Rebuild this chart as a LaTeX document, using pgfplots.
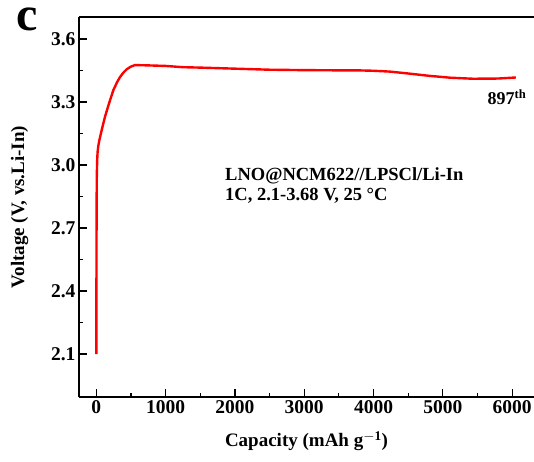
\documentclass[border=0pt]{standalone}
\usepackage{pgfplots}
\pgfplotsset{compat=1.18}
\usepackage{fontspec}
\setmainfont{Liberation Serif}
\begin{document}
\begin{tikzpicture}
\path[use as bounding box] (-79pt,-64pt) rectangle (455pt,397pt);
\clip (-79pt,-64pt) rectangle (455pt,397pt);
\begin{axis}[
  at={(0pt,0pt)}, anchor=south west,
  scale only axis, width=455pt, height=380pt,
  xmin=-250, xmax=6316, ymin=1.8955, ymax=3.705,
  axis x line*=bottom, axis y line*=left,
  axis line style={line width=1.3pt, black},
  xtick={0,1000,2000,3000,4000,5000,6000},
  ytick={2.1,2.4,2.7,3.0,3.3,3.6},
  minor x tick num=1, minor y tick num=1,
  tick align=inside,
  major tick length=8pt, minor tick length=4pt,
  every tick/.style={line width=1.2pt, black},
  /pgf/number format/assume math mode=true,
  x tick label style={font=\bfseries\fontsize{19.5}{19.5}\selectfont, /pgf/number format/set thousands separator={}},
  y tick label style={font=\bfseries\fontsize{19.5}{19.5}\selectfont, /pgf/number format/fixed, /pgf/number format/fixed zerofill, /pgf/number format/precision=1},
  xlabel={Capacity (mAh g$^{\mathbf{-1}}$)},
  ylabel={Voltage (V, vs.Li-In)},
  label style={font=\bfseries\fontsize{19}{19}\selectfont},
  xlabel style={yshift=-11pt},
  ylabel style={yshift=16pt},
  clip=false,
]
\addplot[red, line width=2.4pt, line join=round] coordinates {
(0,2.1) (2,2.5) (4,2.8) (7,2.95) (12,3.02) (18,3.06) (28,3.09) (45,3.12)
(80,3.17) (125,3.23) (180,3.29) (245,3.356) (300,3.395) (342,3.419)
(390,3.44) (438,3.456) (500,3.469) (558,3.476) (700,3.475) (1000,3.472)
(1250,3.466) (1500,3.464) (2000,3.459) (2500,3.454) (3000,3.452)
(3500,3.451) (3760,3.451) (4000,3.449) (4237,3.445) (4500,3.436)
(4800,3.425) (5105,3.416) (5434,3.411) (5800,3.412) (6055,3.417)
};
\node[anchor=west, font=\bfseries\fontsize{18.5}{18.5}\selectfont, align=left, inner sep=0pt] at (axis cs:1857,2.903) {LNO@NCM622//LPSCl/Li-In\\[1pt]1C, 2.1-3.68 V, 25 °C};
\node[font=\bfseries\fontsize{18}{18}\selectfont, inner sep=0pt] at (axis cs:5925,3.322) {897$^{\mathbf{th}}$};
\end{axis}
\draw[line width=1.3pt, black] (0pt,380pt) -- (455pt,380pt);
\node[font=\bfseries\fontsize{48}{48}\selectfont, inner sep=0pt, anchor=base, text height=24pt, text depth=0pt] at (-52pt,366pt) {c};
\end{tikzpicture}
\end{document}
